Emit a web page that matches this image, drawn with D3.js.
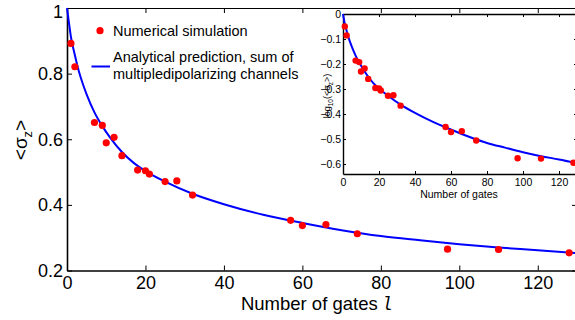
<!DOCTYPE html>
<html>
<head>
<meta charset="utf-8">
<script src="https://cdn.jsdelivr.net/npm/d3@7"></script>
<style>
  html, body { margin: 0; padding: 0; background: #fff; }
  svg { display: block; font-family: "Liberation Sans", Arial, Helvetica, sans-serif; }
</style>
</head>
<body>
<div id="chart"></div>
<script>
// simulated points (number of gates, <sigma_z>)
const gates = [1, 2, 7, 9, 10, 12, 14, 18, 20, 21, 25, 28, 32, 57, 60, 66, 74, 97, 110, 128];
const sigmaZ = [0.892, 0.821, 0.651, 0.642, 0.589, 0.606, 0.55, 0.506, 0.504, 0.494, 0.471, 0.473, 0.43, 0.353, 0.337, 0.34, 0.312, 0.265, 0.264, 0.254];

// analytical curve
const curveGates = [0, 0.5, 1, 2, 3, 4, 5, 7, 9, 11, 14, 17, 20, 25, 32, 40, 50, 60, 70, 80, 90, 100, 110, 120, 130];
const curveSigma = [1.0, 0.955, 0.912, 0.857, 0.808, 0.77, 0.737, 0.682, 0.64, 0.605, 0.561, 0.528, 0.503, 0.471, 0.434, 0.402, 0.37, 0.345, 0.323, 0.305, 0.292, 0.28, 0.27, 0.262, 0.253];

const xTicks = [0, 20, 40, 60, 80, 100, 120];
const yTicks = [0.2, 0.4, 0.6, 0.8, 1];
const insetYTicks = [0, -0.1, -0.2, -0.3, -0.4, -0.5, -0.6];

const width = 575;
const height = 320;

const points = gates.map((g, i) => ({ g, s: sigmaZ[i] }));
const curvePts = curveGates.map((g, i) => ({ g, s: curveSigma[i] }));

const svg = d3.select("#chart").append("svg")
  .attr("width", width)
  .attr("height", height)
  .attr("viewBox", `0 0 ${width} ${height}`);

// strip d3's default axis font so text inherits Liberation Sans
const plain = (g, size) => {
  g.attr("font-family", null).attr("font-size", null);
  g.selectAll("text").attr("font-size", size).attr("fill", "#000");
};

// ---------- main axes ----------
const x = d3.scaleLinear().domain([0, 130]).range([67, 577]);
const y = d3.scaleLinear().domain([0.2, 1]).range([270.5, 8]);

const mainFont = 18;

svg.append("g")
  .attr("transform", `translate(0,${y.range()[0]})`)
  .call(d3.axisBottom(x).tickValues(xTicks).tickFormat(d3.format("d"))
    .tickSizeInner(-5).tickSizeOuter(0).tickPadding(6))
  .call((g) => g.select(".domain").attr("stroke-width", 1.6))
  .call((g) => plain(g, mainFont));

svg.append("g")
  .attr("transform", `translate(${x.range()[0]},0)`)
  .call(d3.axisLeft(y).tickValues(yTicks).tickFormat((d) => (d === 1 ? "1" : d3.format(".1f")(d)))
    .tickSizeInner(-5).tickSizeOuter(0).tickPadding(4))
  .call((g) => g.select(".domain").attr("stroke-width", 1.6))
  .call((g) => plain(g, mainFont))
  .call((g) => g.selectAll("text").filter((d) => d === 1).attr("dy", "0.55em"));

svg.append("g")
  .attr("transform", `translate(0,${y.range()[1]})`)
  .call(d3.axisTop(x).tickValues(xTicks).tickFormat("").tickSizeInner(-5).tickSizeOuter(0))
  .call((g) => g.select(".domain").attr("stroke-width", 1.2));

svg.append("g")
  .attr("transform", `translate(${x.range()[1]},0)`)
  .call(d3.axisRight(y).tickValues(yTicks).tickFormat("").tickSizeInner(-5).tickSizeOuter(0))
  .call((g) => g.select(".domain").attr("stroke-width", 1.2));

svg.selectAll(".tick line").attr("stroke", "#000");
svg.selectAll(".domain").attr("stroke", "#000");

const line = d3.line().x((d) => x(d.g)).y((d) => y(d.s)).curve(d3.curveMonotoneX);

svg.append("path")
  .datum(curvePts)
  .attr("fill", "none")
  .attr("stroke", "#0000ff")
  .attr("stroke-width", 2)
  .attr("d", line);

svg.append("g")
  .selectAll("circle")
  .data(points)
  .join("circle")
  .attr("cx", (d) => x(d.g))
  .attr("cy", (d) => y(d.s))
  .attr("r", 3.6)
  .attr("fill", "#ff0000");

// axis labels
svg.append("text")
  .attr("x", 317)
  .attr("y", 310)
  .attr("text-anchor", "middle")
  .attr("font-size", 18.5)
  .call((t) => {
    t.append("tspan").text("Number of gates ");
    t.append("tspan")
      .attr("font-family", "'DejaVu Sans Mono', monospace")
      .attr("font-style", "italic")
      .attr("font-size", 17)
      .text("l");
  });

svg.append("text")
  .attr("transform", "translate(27,140) rotate(-90)")
  .attr("text-anchor", "middle")
  .attr("font-size", 19)
  .call((t) => {
    t.append("tspan").text("<σ");
    t.append("tspan").attr("font-size", 13).attr("dy", 5).text("z");
    t.append("tspan").attr("dy", -5).text(">");
  });

// legend
const legend = svg.append("g").attr("font-size", 14.5);
legend.append("circle").attr("cx", 100).attr("cy", 30.7).attr("r", 3.6).attr("fill", "#ff0000");
legend.append("text").attr("x", 113).attr("y", 36).text("Numerical simulation");
legend.append("line")
  .attr("x1", 91.5).attr("x2", 110)
  .attr("y1", 66.5).attr("y2", 66.5)
  .attr("stroke", "#0000ff").attr("stroke-width", 2);
legend.append("text").attr("x", 113).attr("y", 62).text("Analytical prediction, sum of");
legend.append("text").attr("x", 113).attr("y", 79).text("multipledipolarizing channels");

// ---------- inset (log10) ----------
const xi = d3.scaleLinear().domain([0, 130]).range([343, 577]);
const yi = d3.scaleLinear().domain([-0.64, 0]).range([174, 14]);

const inset = svg.append("g");

inset.append("rect")
  .attr("x", xi.range()[0])
  .attr("y", yi.range()[1])
  .attr("width", xi.range()[1] - xi.range()[0])
  .attr("height", yi.range()[0] - yi.range()[1])
  .attr("fill", "#fff");

const insetFont = 10.5;
const minus = (d) => (d === 0 ? "0" : "\u2212" + d3.format(".1f")(-d));

inset.append("g")
  .attr("transform", `translate(0,${yi.range()[0]})`)
  .call(d3.axisBottom(xi).tickValues(xTicks).tickFormat(d3.format("d"))
    .tickSizeInner(-3).tickSizeOuter(0).tickPadding(5))
  .call((g) => plain(g, insetFont));

inset.append("g")
  .attr("transform", `translate(${xi.range()[0]},0)`)
  .call(d3.axisLeft(yi).tickValues(insetYTicks).tickFormat(minus)
    .tickSizeInner(-3).tickSizeOuter(0).tickPadding(2))
  .call((g) => plain(g, insetFont));

inset.append("g")
  .attr("transform", `translate(0,${yi.range()[1]})`)
  .call(d3.axisTop(xi).tickValues(xTicks).tickFormat("").tickSizeInner(-3).tickSizeOuter(0));

inset.append("g")
  .attr("transform", `translate(${xi.range()[1]},0)`)
  .call(d3.axisRight(yi).tickValues(insetYTicks).tickFormat("").tickSizeInner(-3).tickSizeOuter(0));

inset.selectAll(".domain").attr("stroke", "#000").attr("stroke-width", 1.4);
inset.selectAll(".tick line").attr("stroke", "#000");

const lineLog = d3.line().x((d) => xi(d.g)).y((d) => yi(Math.log10(d.s))).curve(d3.curveMonotoneX);

inset.append("path")
  .datum(curvePts)
  .attr("fill", "none")
  .attr("stroke", "#0000ff")
  .attr("stroke-width", 2)
  .attr("d", lineLog);

inset.append("g")
  .selectAll("circle")
  .data(points)
  .join("circle")
  .attr("cx", (d) => xi(d.g))
  .attr("cy", (d) => yi(Math.log10(d.s)))
  .attr("r", 3.2)
  .attr("fill", "#ff0000");

inset.append("text")
  .attr("x", 459)
  .attr("y", 198)
  .attr("text-anchor", "middle")
  .attr("font-size", insetFont)
  .text("Number of gates");

inset.append("text")
  .attr("transform", "translate(330,96) rotate(-90)")
  .attr("text-anchor", "middle")
  .attr("font-size", 9)
  .call((t) => {
    t.append("tspan").text("log");
    t.append("tspan").attr("font-size", 6.5).attr("dy", 2.5).text("10");
    t.append("tspan").attr("dy", -2.5).text("(<σ");
    t.append("tspan").attr("font-size", 6.5).attr("dy", 2.5).text("z");
    t.append("tspan").attr("dy", -2.5).text(">)");
  });
</script>
</body>
</html>
